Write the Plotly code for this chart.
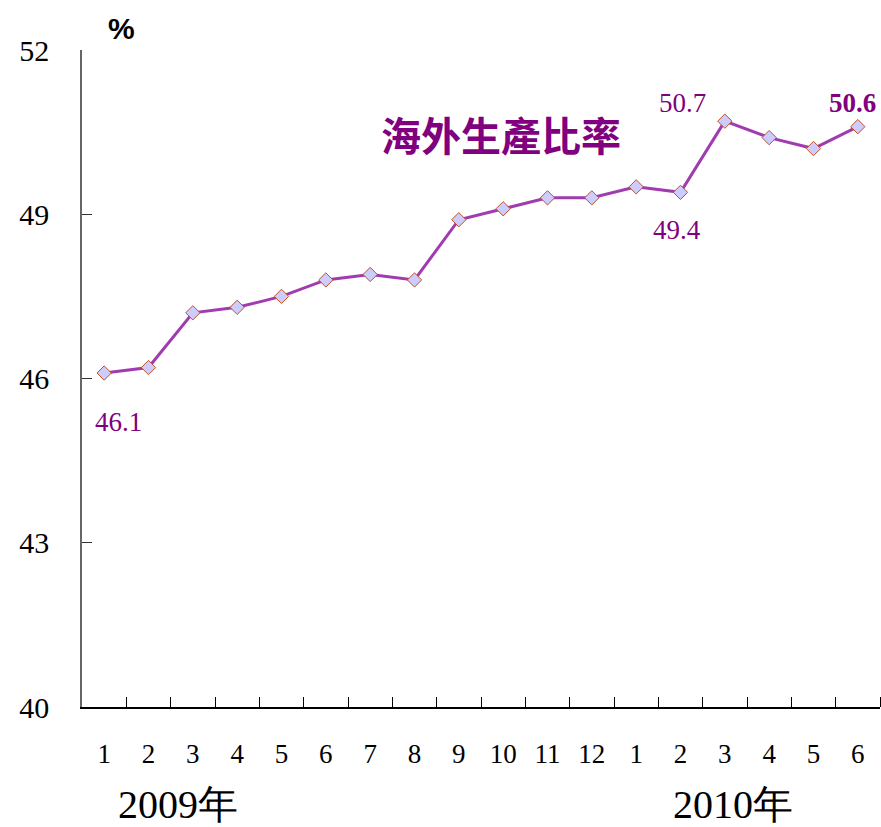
import plotly.graph_objects as go

# Monthly overseas production ratio, Jan 2009 – Jun 2010 (%)
months = ["1", "2", "3", "4", "5", "6", "7", "8", "9", "10", "11", "12",
          "1", "2", "3", "4", "5", "6"]
ratio = [46.1, 46.2, 47.2, 47.3, 47.5, 47.8, 47.9, 47.8, 48.9, 49.1, 49.3, 49.3,
         49.5, 49.4, 50.7, 50.4, 50.2, 50.6]
y_ticks = [40, 43, 46, 49, 52]
year_labels = ["2009年", "2010年"]

x = list(range(len(months)))
purple = "#800080"
serif = "Liberation Serif, Times New Roman, serif"

fig = go.Figure()
fig.add_trace(go.Scatter(
    x=x, y=ratio, mode="lines+markers",
    line=dict(color="#A03CB0", width=3),
    marker=dict(symbol="diamond", size=11, color="#CCCCFF",
                line=dict(color="#C0501F", width=1)),
    hoverinfo="x+y", showlegend=False,
))

# value callouts: (index, x shift, y shift, bold)
callouts = [
    (0, 14, -49, False),
    (13, -4, -38, False),
    (14, -42, 18, False),
    (17, -5, 24, True),
]
for i, dx, dy, bold in callouts:
    txt = f"{ratio[i]:.1f}"
    fig.add_annotation(
        x=i, y=ratio[i], text=f"<b>{txt}</b>" if bold else txt, showarrow=False,
        xshift=dx, yshift=dy,
        font=dict(family=serif, size=27, color=purple),
    )

fig.add_annotation(
    xref="paper", yref="paper", x=0.372, y=0.872, text="<b>海外生產比率</b>",
    showarrow=False, xanchor="left", yanchor="middle",
    font=dict(family="Noto Sans CJK TC", size=40, color=purple),
)
fig.add_annotation(
    xref="paper", yref="paper", x=0.03, y=1.0, yshift=22, text="<b>%</b>",
    showarrow=False, xanchor="left", yanchor="middle",
    font=dict(family="Liberation Sans, Arial", size=30, color="black"),
)
for xi, lab in [(1.67, year_labels[0]), (14.18, year_labels[1])]:
    fig.add_annotation(
        x=xi, y=0, yref="paper", text=lab, showarrow=False,
        xanchor="center", yanchor="middle", yshift=-97,
        font=dict(family=serif, size=40, color="black"),
    )

fig.update_layout(
    width=881, height=827,
    margin=dict(l=82, r=1, t=50, b=120),
    paper_bgcolor="white", plot_bgcolor="white",
    xaxis=dict(
        range=[-0.5, len(months) - 0.5],
        tickmode="array", tickvals=x, ticktext=months,
        ticks="", showgrid=False, zeroline=False,
        showline=True, linecolor="black", linewidth=1.5,
        tickfont=dict(family=serif, size=27, color="black"),
        ticklabelstandoff=22,
        minor=dict(tickmode="array",
                   tickvals=[i + 0.5 for i in range(len(months))],
                   ticks="inside", ticklen=10, tickcolor="black", tickwidth=1,
                   showgrid=False),
    ),
    yaxis=dict(
        range=[40, 52], tickvals=y_ticks,
        ticks="inside", ticklen=10, tickcolor="#333", tickwidth=1,
        showgrid=False, zeroline=False,
        showline=True, linecolor="#666", linewidth=1.5,
        tickfont=dict(family=serif, size=30, color="black"),
        ticklabelstandoff=25,
    ),
)

fig.write_html("out.html")
